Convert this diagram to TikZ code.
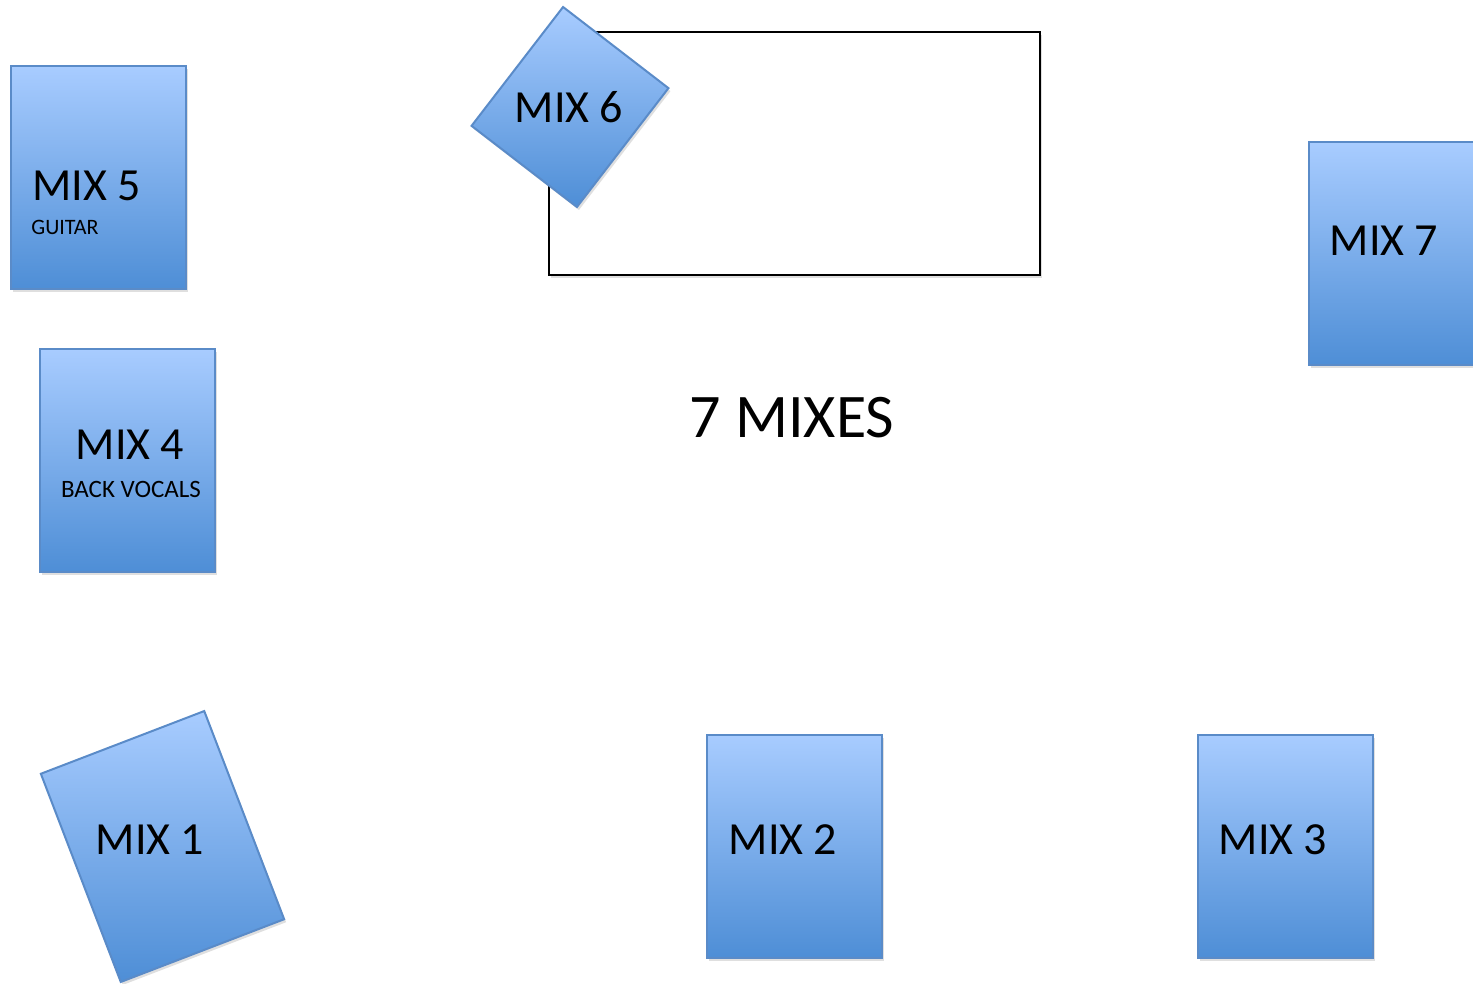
\documentclass[tikz,border=0pt]{standalone}
\usepackage{fontspec}
\setmainfont{Carlito}
\usetikzlibrary{shadows}
\definecolor{mixtop}{HTML}{A8CCFF}
\definecolor{mixbot}{HTML}{4E8ED6}
\definecolor{mixline}{HTML}{5A8BC8}
\tikzset{
    mixbox/.style={draw=mixline, line width=1pt, top color=mixtop, bottom color=mixbot,
        minimum width=87.5pt, minimum height=111.5pt, inner sep=0pt,
        drop shadow={opacity=0.25, shadow xshift=1pt, shadow yshift=-1.5pt}},
    mixtext/.style={font=\fontsize{23}{23}\selectfont, text height=14.8pt, text depth=0pt, inner sep=0pt},
    subtext/.style={font=\fontsize{#1}{#1}\selectfont, text height=0.64*#1pt, text depth=0pt, inner sep=0pt},
}
% box centre (x,y) in px, rotation
\NewDocumentCommand{\drawmix}{m m m m}{
    \node[mixbox, rotate=#4] (#1) at (#2,#3) {};
}
\begin{document}
\begin{tikzpicture}[x=0.5pt, y=-0.5pt]
    \useasboundingbox (0,0) rectangle (1473,984);

    % Stage
    \draw[line width=1.2pt, drop shadow={opacity=0.25, shadow xshift=1pt, shadow yshift=-1.5pt}, fill=white]
        (549,32) rectangle (1040,275);

    % Mixes
    \drawmix{m5}{98.5}{177.5}{0}
    \node[mixtext, anchor=west] (m5t) at (32,186) {MIX 5};
    \node[subtext=11, anchor=west] (m5s) at (31,227) {GUITAR};

    \drawmix{m4}{127.5}{460.5}{0}
    \node[mixtext] (m4t) at (130,445) {MIX 4};
    \node[subtext=12.5] (m4s) at (131,489) {BACK VOCALS};

    \node[mixbox, minimum width=66.5pt, minimum height=75pt, rotate=-37.6] (m6) at (570,107) {};
    \node[mixtext] (m6t) at (569,108) {MIX 6};

    \drawmix{m7}{1396.5}{254}{0}
    \node[mixtext] (m7t) at (1384,241) {MIX 7};

    \drawmix{m1}{162.5}{846.5}{21}
    \node[mixtext] (m1t) at (150,840) {MIX 1};

    \drawmix{m2}{794.5}{846}{0}
    \node[mixtext] (m2t) at (783,840) {MIX 2};

    \drawmix{m3}{1285.5}{846}{0}
    \node[mixtext] (m3t) at (1273,840) {MIX 3};

    % Title
    \node[subtext=31] (title) at (792,418) {7 MIXES};
\end{tikzpicture}
\end{document}
